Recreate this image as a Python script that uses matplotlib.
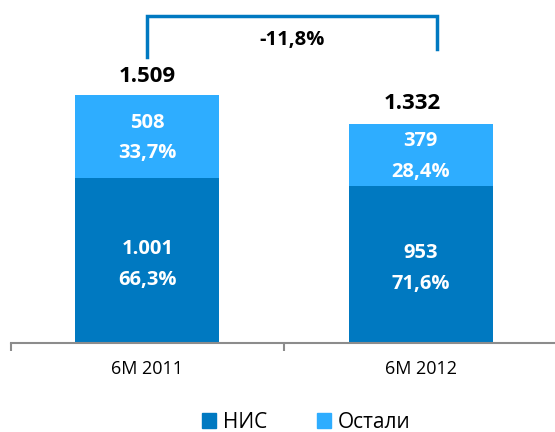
import matplotlib
matplotlib.use("Agg")
import matplotlib.pyplot as plt
from matplotlib.patches import Patch

categories = ["6M 2011", "6M 2012"]
nis = [1001, 953]
others = [508, 379]
totals = [1509, 1332]
nis_pct = ["66,3%", "71,6%"]
others_pct = ["33,7%", "28,4%"]
change_label = "-11,8%"

def fmt(v):
    return f"{v:,}".replace(",", ".")

C_DARK = "#0079C1"
C_LIGHT = "#2EADFF"
FONT = "Open Sans"

W, H = 555, 432
fig = plt.figure(figsize=(W / 100, H / 100), dpi=100)
ax_left, ax_right = 10.6 / W, 557.5 / W
ax_bottom = (H - 343) / H
ax_top = 1.0
ax = fig.add_axes([ax_left, ax_bottom, ax_right - ax_left, ax_top - ax_bottom])

x = [0, 1]
bw = 144 / 273.4
ax.bar(x, nis, width=bw, color=C_DARK, label="НИС", zorder=2)
ax.bar(x, others, width=bw, bottom=nis, color=C_LIGHT, label="Остали", zorder=2)

px_per_unit = 248 / 1509.0
ax.set_ylim(0, 343 / px_per_unit)
ax.set_xlim(-0.5, 1.5)

LS = 14.5
for i in range(2):
    ax.text(x[i], nis[i] / 2 + 70, fmt(nis[i]), ha="center", va="center",
            color="white", fontsize=LS, fontweight="bold", family=FONT)
    ax.text(x[i], nis[i] / 2 - 120, nis_pct[i], ha="center", va="center",
            color="white", fontsize=LS, fontweight="bold", family=FONT)
    mid = nis[i] + others[i] / 2
    ax.text(x[i], mid + 85, fmt(others[i]), ha="center", va="center",
            color="white", fontsize=LS, fontweight="bold", family=FONT)
    ax.text(x[i], mid - 100, others_pct[i], ha="center", va="center",
            color="white", fontsize=LS, fontweight="bold", family=FONT)

ax.text(x[0], totals[0] + 110, fmt(totals[0]), ha="center", va="center",
        color="black", fontsize=16, fontweight="bold", family=FONT)
ax.text(x[1] - 0.03, totals[1] + 125, fmt(totals[1]), ha="center", va="center",
        color="black", fontsize=16, fontweight="bold", family=FONT)

# bracket
y_top = 1990
bx0, bx1 = x[0], x[1] + 0.06
ax.plot([bx0, bx0, bx1, bx1], [1740, y_top, y_top, 1790], color=C_DARK,
        lw=2.5, solid_joinstyle="miter", zorder=3, clip_on=False)
ax.text((bx0 + bx1) / 2, 1845, change_label, ha="center", va="center",
        color="black", fontsize=14.5, fontweight="bold", family=FONT)

for s in ["top", "right", "left"]:
    ax.spines[s].set_visible(False)
ax.spines["bottom"].set_color("#8C8C8C")
ax.spines["bottom"].set_linewidth(1.5)
ax.set_yticks([])
ax.set_xticks([-0.5, 0.5, 1.5])
ax.set_xticklabels([])
ax.tick_params(axis="x", which="major", length=6, width=1.5, color="#8C8C8C", direction="out")
ax.set_xticks(x, minor=True)
ax.set_xticklabels(categories, minor=True, fontsize=13, family=FONT)
ax.tick_params(axis="x", which="minor", length=0, pad=12)

handles = [Patch(color=C_DARK, label="НИС"), Patch(color=C_LIGHT, label="Остали")]
fig.legend(handles=handles, loc="center", bbox_to_anchor=(306 / W, 1 - 422 / H),
           ncol=2, frameon=False, prop={"family": FONT, "size": 15},
           handlelength=0.7, handleheight=0.7, handletextpad=0.3, columnspacing=2.4)

fig.savefig("out.png", dpi=100)
